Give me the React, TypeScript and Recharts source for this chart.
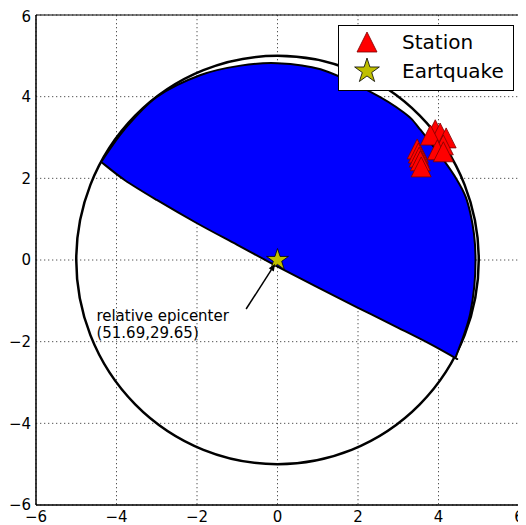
import React from 'react';
import {
  ScatterChart,
  Scatter,
  XAxis,
  YAxis,
  CartesianGrid,
  ReferenceArea,
  ReferenceDot,
  Legend,
} from 'recharts';

const TICKS = [-6, -4, -2, 0, 2, 4, 6];

// focal sphere outline
const CIRCLE_CENTER = { x: 0, y: 0 };
const CIRCLE_RADIUS = 5;

// outer edge of the shaded quadrant, left corner -> right corner
const arcX = [-4.38, -3.81, -2.99, -1.91, -0.92, 0, 1.07, 2.31, 3.13, 3.55, 4.46, 4.79, 4.92, 4.79, 4.42];
const arcY = [2.4, 3.19, 4.0, 4.53, 4.76, 4.82, 4.67, 4.12, 3.62, 3.19, 1.96, 1.15, 0, -1.3, -2.4];

// nodal plane, left -> right
const planeX = [-4.38, -3.8, -3.0, -2.0, -1.0, 0, 1.0, 2.0, 3.0, 3.8, 4.42];
const planeY = [2.4, 1.96, 1.47, 0.9, 0.37, -0.16, -0.67, -1.17, -1.66, -2.06, -2.4];

const stationX = [3.92, 4.04, 3.8, 4.19, 4.12, 3.47, 3.97, 4.12, 3.5, 3.52, 3.55, 3.57];
const stationY = [3.19, 3.11, 3.06, 2.99, 2.82, 2.72, 2.7, 2.65, 2.62, 2.52, 2.43, 2.28];

const EPICENTER = { x: 0, y: 0 };
const ANNOTATION = ['relative epicenter', '(51.69,29.65)'];
const ANNOTATION_POS = { x: -4.5, y: -1.5 };
const ARROW_FROM = { x: -0.78, y: -1.2 };
const ARROW_TO = { x: -0.06, y: -0.1 };

const circleData = [
  CIRCLE_CENTER,
  { x: CIRCLE_CENTER.x + CIRCLE_RADIUS, y: CIRCLE_CENTER.y },
  { x: CIRCLE_CENTER.x, y: CIRCLE_CENTER.y + CIRCLE_RADIUS },
];
const arcPoints = arcX.map((x, i) => ({ x, y: arcY[i] }));
const planePoints = planeX.map((x, i) => ({ x, y: planeY[i] }));
const regionData = [...arcPoints, ...planePoints.slice().reverse()];
const stationData = stationX.map((x, i) => ({ x, y: stationY[i] }));
const arrowData = [ARROW_FROM, ARROW_TO];

const FONT = 'DejaVu Sans';
const fmt = (v: number) => (v < 0 ? `\u2212${Math.abs(v)}` : `${v}`);

type Pt = { x: number; y: number };

const smooth = (pts: Pt[], start: string) => {
  let d = `${start}${pts[0].x},${pts[0].y}`;
  for (let i = 0; i < pts.length - 1; i++) {
    const p0 = pts[i - 1] || pts[i];
    const p1 = pts[i];
    const p2 = pts[i + 1];
    const p3 = pts[i + 2] || p2;
    const c1x = p1.x + (p2.x - p0.x) / 6;
    const c1y = p1.y + (p2.y - p0.y) / 6;
    const c2x = p2.x - (p3.x - p1.x) / 6;
    const c2y = p2.y - (p3.y - p1.y) / 6;
    d += ` C${c1x},${c1y} ${c2x},${c2y} ${p2.x},${p2.y}`;
  }
  return d;
};

const starPoints = (cx: number, cy: number, r: number) => {
  const inner = r * 0.382;
  const pts: string[] = [];
  for (let i = 0; i < 10; i++) {
    const rad = i % 2 === 0 ? r : inner;
    const a = -Math.PI / 2 + (i * Math.PI) / 5;
    pts.push(`${cx + rad * Math.cos(a)},${cy + rad * Math.sin(a)}`);
  }
  return pts.join(' ');
};

const triPoints = (cx: number, cy: number, s: number) =>
  `${cx},${cy - s / 2} ${cx - s / 2},${cy + s / 2} ${cx + s / 2},${cy + s / 2}`;

const Nothing = () => <g />;

const CircleLine = (props: any) => {
  const [c, e, t] = props.points;
  return (
    <ellipse cx={c.x} cy={c.y} rx={e.x - c.x} ry={c.y - t.y} fill="none" stroke="#000" strokeWidth={2.5} />
  );
};

const RegionLine = (props: any) => {
  const pts: Pt[] = props.points;
  const arc = pts.slice(0, arcX.length);
  const plane = pts.slice(arcX.length - 1);
  const d = `${smooth(arc, 'M')} ${smooth(plane, 'L')} Z`;
  return <path d={d} fill="#0000ff" stroke="#000" strokeWidth={2} strokeLinejoin="round" />;
};

const ArrowLine = (props: any) => {
  const [a, b] = props.points;
  const ang = Math.atan2(b.y - a.y, b.x - a.x);
  const len = 7;
  const hw = 3;
  const bx = b.x - len * Math.cos(ang);
  const by = b.y - len * Math.sin(ang);
  const head = `${b.x},${b.y} ${bx - hw * Math.sin(ang)},${by + hw * Math.cos(ang)} ${bx + hw * Math.sin(ang)},${by - hw * Math.cos(ang)}`;
  return (
    <g>
      <line x1={a.x} y1={a.y} x2={bx} y2={by} stroke="#000" strokeWidth={1.5} />
      <polygon points={head} fill="#000" />
    </g>
  );
};

const Triangle = (props: any) => (
  <polygon points={triPoints(props.cx, props.cy, 20)} fill="#ff0000" stroke="#7a0000" strokeWidth={0.8} />
);

const Star = (props: any) => (
  <polygon points={starPoints(props.cx, props.cy, 11.5)} fill="#bfbf00" stroke="#000" strokeWidth={0.8} />
);

const AnnotationText = (props: any) => (
  <text x={props.cx} y={props.cy} fontFamily={FONT} fontSize={15} fill="#000">
    <tspan x={props.cx}>{ANNOTATION[0]}</tspan>
    <tspan x={props.cx} dy={17}>{ANNOTATION[1]}</tspan>
  </text>
);

const LegendBox = () => (
  <svg width={176} height={66}>
    <rect x={0.5} y={0.5} width={175} height={65} fill="#fff" stroke="#000" strokeWidth={1} />
    <polygon points={triPoints(29, 17, 20)} fill="#ff0000" stroke="#7a0000" strokeWidth={0.8} />
    <text x={64} y={24} fontFamily={FONT} fontSize={20} fill="#000">Station</text>
    <polygon points={starPoints(29, 46, 13)} fill="#bfbf00" stroke="#000" strokeWidth={0.8} />
    <text x={64} y={53} fontFamily={FONT} fontSize={20} fill="#000">Eartquake</text>
  </svg>
);

const App: React.FC = () => {
  return (
    <div style={{ width: 518, height: 517, fontFamily: FONT }}>
      <ScatterChart width={518} height={517} margin={{ top: 7, right: 7, bottom: 0, left: 0 }}>
        <CartesianGrid stroke="#555" strokeDasharray="1.3 2.7" />
        <XAxis
          type="number"
          dataKey="x"
          domain={[-6, 6]}
          ticks={TICKS}
          allowDataOverflow
          height={20}
          tickLine={false}
          tickSize={0}
          tickMargin={6}
          tickFormatter={fmt}
          axisLine={{ stroke: '#000' }}
          tick={{ fill: '#000', fontSize: 15, fontFamily: FONT }}
        />
        <YAxis
          type="number"
          dataKey="y"
          domain={[-6, 6]}
          ticks={TICKS}
          allowDataOverflow
          width={28}
          tickLine={false}
          tickSize={0}
          tickMargin={5}
          tickFormatter={fmt}
          axisLine={{ stroke: '#000' }}
          tick={{ fill: '#000', fontSize: 15, fontFamily: FONT }}
        />
        <Scatter data={circleData} isAnimationActive={false} shape={Nothing} line={CircleLine} legendType="none" />
        <Scatter data={regionData} isAnimationActive={false} shape={Nothing} line={RegionLine} legendType="none" />
        <Scatter name="Station" data={stationData} isAnimationActive={false} shape={Triangle} />
        <Scatter name="Eartquake" data={[EPICENTER]} isAnimationActive={false} shape={Star} />
        <Scatter data={arrowData} isAnimationActive={false} shape={Nothing} line={ArrowLine} legendType="none" />
        <ReferenceDot x={ANNOTATION_POS.x} y={ANNOTATION_POS.y} r={0} shape={AnnotationText} />
        <ReferenceArea x1={-6} x2={6} y1={-6} y2={6} fill="none" fillOpacity={0} stroke="#000" strokeWidth={1} />
        <Legend
          layout="vertical"
          align="center"
          verticalAlign="middle"
          content={LegendBox}
          wrapperStyle={{ top: 17, left: 330, right: 'auto', bottom: 'auto', width: 176 }}
        />
      </ScatterChart>
    </div>
  );
};

export default App;
